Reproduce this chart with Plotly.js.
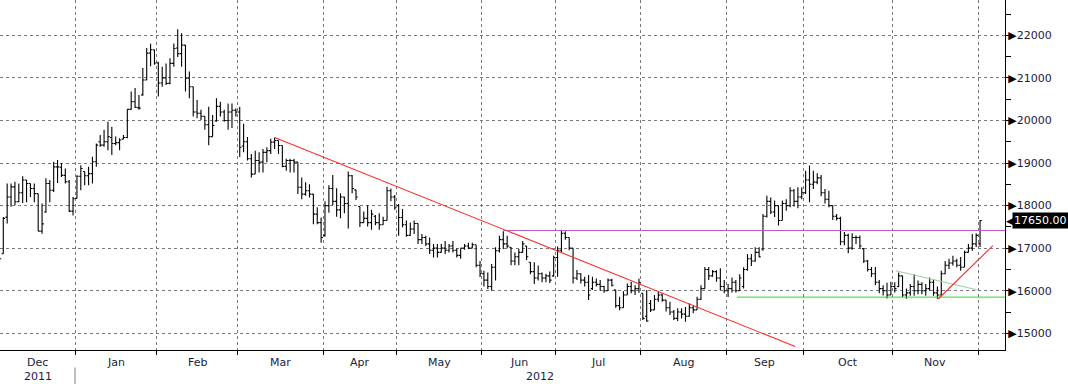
<!DOCTYPE html>
<html><head><meta charset="utf-8">
<script src="https://cdn.plot.ly/plotly-3.0.1.min.js"></script>
<style>html,body{margin:0;padding:0;background:#fff}#chart{width:1068px;height:384px}</style>
</head><body><div id="chart"></div>
<script>
// Month labels and trading-day counts per month (Dec 2011 .. Dec 2012)
const monthLabels = ['Dec','Jan','Feb','Mar','Apr','May','Jun','Jul','Aug','Sep','Oct','Nov','Dec'];
const monthCounts = [20,21,21,22,19,22,19,22,22,20,23,22,1];
const yearLabels = ['2011','2012'];
const yTicks = [15000,16000,17000,18000,19000,20000,21000,22000];

const openP = [
16900,16870,17730,18200,18440,18090,18300,18600,18520,18400,18280,17400,17850,18520,18360,18910,18900,18710,18560,17870,
18170,18690,18800,18700,18750,19030,19500,19420,19500,19600,19460,19480,19560,19600,20260,20440,20300,20600,20950,21580,21660,
21350,20880,21000,20870,21340,21700,21570,21770,20990,20790,20200,20170,20100,19900,19620,19990,20330,20200,20000,20200,20240,
20200,19400,19500,19100,18740,19060,19020,19250,19290,19490,19530,19410,18920,19060,19060,19020,18430,18270,18350,18270,17800,17600,
17300,18000,18400,18100,17900,18200,18050,18700,18370,17980,17600,17700,17600,17750,17600,17550,17650,18350,18200,
18000,17720,17550,17300,17450,17580,17200,17250,17100,16950,17000,16900,17000,16950,17050,16950,16830,17000,17050,17000,17080,16600,
16400,16250,16100,16550,16940,17200,17100,17020,16700,16800,16900,17050,16670,16450,16300,16400,16300,16350,16350,
16780,16950,17350,17250,17000,16300,16400,16250,16200,16050,16200,16150,16100,16000,16250,16020,15650,15600,15900,16100,16000,16050,
15940,15400,15700,15550,15800,15900,15780,15600,15500,15350,15500,15450,15400,15600,15550,15800,16050,16500,16350,16450,16300,16100,
16000,16050,16200,16000,16100,16500,16750,16700,16900,16980,17750,18100,17850,18000,17650,18050,18000,18350,18100,18200,
18300,18600,18500,18550,18650,18300,18150,18000,17750,17700,17150,17300,17000,17250,17250,16990,16700,16500,16400,16200,16050,16000,15900,
16100,16100,16350,15900,15950,16100,16000,16150,16000,16050,16200,15950,15900,16400,16600,16650,16700,16600,16550,16900,17000,17100,
17100];
const highP = [
17500,17730,18520,18520,18560,18520,18690,18600,18520,18520,18280,18050,18640,18600,19030,19070,19000,18870,18600,18200,
18715,18950,18800,18910,19150,19460,19660,19780,19970,19850,19620,19580,19660,20260,20680,20760,20600,21230,21700,21800,21660,
21380,21260,21340,21460,21810,22140,22050,21770,21150,20790,20480,20250,20100,20320,20130,20520,20440,20250,20400,20400,20280,
20320,19920,19610,19210,19290,19250,19330,19370,19570,19600,19530,19410,19100,19100,19100,19020,18660,18550,18500,18270,17960,17720,
18100,18480,18720,18410,18290,18210,18800,18720,18370,17980,17860,18010,17900,17780,17820,17740,18440,18400,18250,
18040,17920,17650,17600,17650,17580,17330,17290,17250,17100,17100,17100,17170,17100,17170,17000,17000,17100,17130,17130,17080,16700,
16470,16430,16630,17020,17290,17400,17290,17030,16900,16980,17170,17050,16670,16670,16590,16430,16400,16450,16820,
17040,17430,17390,17250,17000,16490,16410,16330,16370,16330,16290,16250,16120,16290,16280,16020,15860,15990,16170,16210,16130,16280,
15940,16020,15780,15900,15980,15940,15780,15740,15550,15590,15590,15620,15700,15660,15860,16130,16560,16560,16490,16480,16530,16250,
16160,16310,16250,16390,16550,16860,16860,17020,17020,17800,18230,18190,18120,18000,18120,18150,18430,18390,18430,18430,
18820,18940,18820,18760,18720,18390,18350,18000,17800,17740,17380,17340,17350,17300,17300,16990,16720,16560,16560,16250,16130,16190,16210,
16200,16430,16350,16050,16160,16390,16240,16200,16160,16310,16270,16100,16470,16700,16750,16820,16750,16790,16940,17100,17330,17350,
17660];
const lowP = [
16700,16870,17580,17970,18010,18080,18060,18080,18200,18080,17400,17340,17830,18080,18320,18530,18670,18520,17850,17770,
18165,18360,18480,18480,18520,18910,19380,19380,19300,19190,19420,19300,19560,19580,20250,20290,20250,20580,20950,21270,21310,
20560,20790,20830,20850,21260,21490,21260,20680,20520,20090,20050,20010,19780,19420,19620,19970,20090,19970,19780,19820,20090,
19140,19250,19060,18660,18740,18780,18780,19020,19210,19330,19210,18900,18820,18780,18780,18270,18150,18230,18190,17560,17560,17130,
17270,17830,18010,17740,17700,17820,17460,18290,18130,17500,17600,17510,17430,17540,17430,17550,17650,18100,17900,
17290,17490,17270,17290,17330,17100,17100,17050,16860,16780,16780,16900,16860,16900,16900,16780,16750,16960,16980,17000,16550,16320,
16100,16040,16000,16240,16900,16980,17000,16600,16600,16600,16900,16720,16390,16160,16240,16200,16200,16180,16330,
16330,16900,17200,16950,16170,16250,16170,16100,15780,16020,16100,16000,15950,16000,16100,15600,15540,15600,15900,15940,15900,15950,
15310,15270,15500,15550,15740,15740,15510,15430,15310,15290,15350,15270,15390,15470,15550,15780,16050,16250,16330,16210,16020,15940,
15850,15960,15960,16000,16050,16470,16580,16680,16780,16940,17720,17800,17730,17530,17650,17880,17960,17980,17940,18150,
18270,18080,18390,18500,18220,18050,17960,17660,17650,17070,17070,16880,16960,17100,16990,16650,16450,16320,16130,15940,15890,15820,15900,
15960,16080,15850,15810,15880,15880,15920,15920,15880,16000,15880,15810,15900,16390,16510,16590,16550,16470,16550,16900,16940,17030,
17030];
const closeP = [
16750,17700,18200,18440,18090,18300,18600,18520,18400,18280,17400,17570,18520,18360,18910,18910,18710,18560,17870,18160,
18690,18870,18700,18750,19030,19420,19420,19500,19620,19460,19480,19540,19600,20260,20440,20310,20290,20950,21580,21660,21350,
20880,21000,20870,21340,21690,21570,21770,20990,20790,20200,20170,20100,19900,19620,19880,20330,20200,20000,20200,20240,20200,
19370,19500,19100,18740,19060,19020,19250,19290,19490,19530,19410,18920,19060,19060,19020,18430,18270,18350,18270,17800,17600,17250,
18000,18400,18100,17900,18200,18050,18700,18400,18200,17600,17700,17600,17800,17600,17550,17650,18350,18200,17950,
17720,17550,17300,17450,17580,17200,17250,17100,16950,17000,16900,17000,16950,17050,16950,16830,17000,17050,17000,17080,16600,16400,
16250,16100,16550,16940,17200,17100,17050,16700,16800,16900,17100,16800,16450,16300,16400,16300,16350,16250,16780,
16950,17350,17250,17000,16300,16400,16250,16200,15900,16200,16150,16100,16000,16250,16130,15650,15600,15900,16100,16000,16050,16200,
15350,15290,15550,15800,15900,15780,15600,15500,15350,15500,15450,15400,15600,15550,15800,16050,16500,16350,16450,16300,16100,16000,
16050,16200,16000,16300,16500,16750,16700,16900,16800,17750,18100,17850,18000,17650,18050,18000,18350,18100,18200,18300,
18600,18500,18550,18650,18300,18150,18000,17750,17700,17150,17300,17000,17250,17250,17050,16700,16500,16400,16200,16050,16000,15900,16100,
16050,16350,15900,15950,16100,16000,16150,16000,16050,16200,15950,15900,16400,16600,16650,16700,16600,16550,16900,17000,17100,17300,
17650];

// Drawn analysis lines (bar index, price)
const downTrendX = [71, 205.3], downTrendY = [19600, 14690];
const resistX = [130, 260], resistY = [17415, 17415];
const supportX = [190.3, 260], supportY = [15850, 15850];
const wedgeX = [231.3, 252.4], wedgeY = [16470, 16016];
const upTrendX = [242.2, 256.3], upTrendY = [15806, 17058];

const xStart = 0.15, xEnd = 259.44;
const idx = closeP.map((_, i) => i);
const bounds = [];
let s = 0;
for (let k = 0; k < monthCounts.length - 1; k++) { s += monthCounts[k]; bounds.push(s - 0.5); }

const lineTrace = (x, y, color, w) => ({type:'scatter', mode:'lines', x, y, line:{color, width:w}, hoverinfo:'skip', showlegend:false});

const traces = [
  {type:'ohlc', x: idx, open: openP, high: highP, low: lowP, close: closeP,
   increasing:{line:{color:'#000', width:1.1}}, decreasing:{line:{color:'#000', width:1.1}},
   tickwidth:0.45, hoverinfo:'skip', showlegend:false},
  lineTrace(resistX, resistY, '#b45fbf', 1),
  lineTrace(supportX, supportY, '#2ed62e', 1),
  lineTrace(wedgeX, wedgeY, '#a6cba6', 1.1),
  lineTrace(downTrendX, downTrendY, '#ff2a2a', 1.1),
  lineTrace(upTrendX, upTrendY, '#ff2a2a', 1.1)
];

const annotations = [];
const lblFont = {family:'DejaVu Sans, sans-serif', size:11, color:'#1b1b3f'};
for (let k = 0; k < 12; k++) {
  const a = k === 0 ? xStart : bounds[k-1];
  const b = bounds[k];
  annotations.push({x:(a+b)/2, y:0, xref:'x', yref:'paper', yanchor:'middle', yshift:-12,
    text: monthLabels[k], showarrow:false, font: lblFont});
}
annotations.push({x:(xStart+bounds[0])/2, y:0, xref:'x', yref:'paper', yanchor:'middle', yshift:-26, text:yearLabels[0], showarrow:false, font:lblFont});
annotations.push({x:(bounds[0]+xEnd)/2, y:0, xref:'x', yref:'paper', yanchor:'middle', yshift:-26, text:yearLabels[1], showarrow:false, font:lblFont});

const lastClose = closeP[closeP.length-1];
annotations.push({x:1, xref:'paper', y:lastClose, yref:'y', xanchor:'left', xshift:-1, text:'◀', showarrow:false,
  font:{family:'DejaVu Sans, sans-serif', size:13, color:'#000'}});
annotations.push({x:1, xref:'paper', y:lastClose, yref:'y', xanchor:'left', xshift:7, text:lastClose.toFixed(2), showarrow:false,
  bgcolor:'#000', borderpad:1, font:{family:'DejaVu Sans, sans-serif', size:11, color:'#fff'}});

const layout = {
  width:1068, height:384, margin:{l:0, r:63, t:0, b:34, pad:0},
  paper_bgcolor:'#fff', plot_bgcolor:'#fff', showlegend:false,
  font: lblFont,
  xaxis:{range:[xStart, xEnd], tickvals:bounds, ticktext:bounds.map(()=>''), ticks:'outside', ticklen:4, tickcolor:'#000',
    showline:true, linecolor:'#000', linewidth:1, showgrid:true, gridcolor:'#7a7a7a', griddash:'dot', gridwidth:1,
    zeroline:false, rangeslider:{visible:false}, fixedrange:true},
  yaxis:{side:'right', range:[14608, 22829], tickvals:yTicks,
    ticktext: yTicks.map(v => "<span style='color:#000'>▶</span>" + v),
    ticks:'', showline:true, linecolor:'#000', linewidth:1, showgrid:true, gridcolor:'#7a7a7a', griddash:'dot', gridwidth:1,
    zeroline:false, fixedrange:true, ticklabelstandoff:0,
    minor:{dtick:500, tick0:0, ticks:'outside', ticklen:5, tickcolor:'#000', showgrid:false}},
  shapes:[{type:'line', xref:'x', yref:'paper', x0:bounds[0], x1:bounds[0], y0:-0.05, y1:-0.1, line:{color:'#808080', width:1}}],
  annotations
};

Plotly.newPlot('chart', traces, layout, {staticPlot:true, displayModeBar:false});
</script>
</body></html>
